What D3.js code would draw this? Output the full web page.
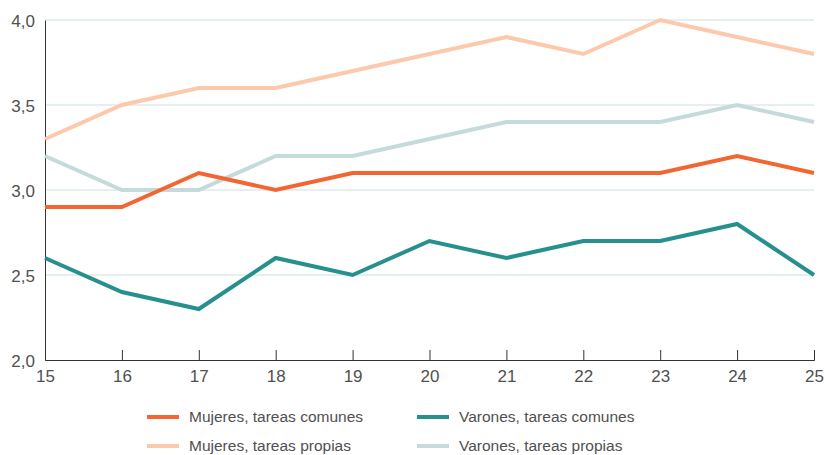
<!DOCTYPE html>
<html>
<head>
<meta charset="utf-8">
<script src="https://cdn.jsdelivr.net/npm/d3@7"></script>
<style>
  body { margin: 0; background: #fff; }
  text { font-family: "Liberation Sans", Arial, sans-serif; fill: #505050; }
</style>
</head>
<body>
<div id="chart"></div>
<script>
// Data
const years = [15, 16, 17, 18, 19, 20, 21, 22, 23, 24, 25];
const mujeresComunes = [2.9, 2.9, 3.1, 3.0, 3.1, 3.1, 3.1, 3.1, 3.1, 3.2, 3.1];
const varonesComunes = [2.6, 2.4, 2.3, 2.6, 2.5, 2.7, 2.6, 2.7, 2.7, 2.8, 2.5];
const mujeresPropias = [3.3, 3.5, 3.6, 3.6, 3.7, 3.8, 3.9, 3.8, 4.0, 3.9, 3.8];
const varonesPropias = [3.2, 3.0, 3.0, 3.2, 3.2, 3.3, 3.4, 3.4, 3.4, 3.5, 3.4];
const yTicks = [2.0, 2.5, 3.0, 3.5, 4.0];

const series = [
    { name: 'Mujeres, tareas propias', values: mujeresPropias, color: '#fdc9ad' },
    { name: 'Varones, tareas propias', values: varonesPropias, color: '#c5dadb' },
    { name: 'Varones, tareas comunes', values: varonesComunes, color: '#26908f' },
    { name: 'Mujeres, tareas comunes', values: mujeresComunes, color: '#f26631' }
];

const width = 825, height = 455;
const margin = { top: 20, right: 11, bottom: 95, left: 45 };

const svg = d3.select('#chart')
    .append('svg')
    .attr('width', width)
    .attr('height', height);

const xScale = d3.scaleLinear()
    .domain([15, 25])
    .range([margin.left, width - margin.right]);

const yScale = d3.scaleLinear()
    .domain([2, 4])
    .range([height - margin.bottom, margin.top]);

const fmt = d => d.toFixed(1).replace('.', ',');

// Horizontal gridlines
svg.selectAll('.grid')
    .data(yTicks.filter(d => d > 2))
    .enter()
    .append('line')
    .attr('class', 'grid')
    .attr('x1', margin.left)
    .attr('x2', width - margin.right)
    .attr('y1', d => yScale(d))
    .attr('y2', d => yScale(d))
    .attr('stroke', '#cde0e2')
    .attr('stroke-width', 1);

// Y axis
const yAxis = d3.axisLeft(yScale).tickValues(yTicks).tickFormat(fmt).tickSize(0).tickPadding(10);
const gY = svg.append('g')
    .attr('transform', `translate(${margin.left},0)`)
    .call(yAxis);
gY.select('.domain').attr('stroke', '#333');
gY.selectAll('text')
    .attr('font-size', 17)
    .attr('dy', '0.36em')
    .style('font-family', '"Liberation Sans", Arial, sans-serif')
    .attr('fill', '#505050');

// X axis, ticks point up into the plot
const xAxis = d3.axisBottom(xScale).tickValues(years).tickFormat(d3.format('d')).tickSize(-10).tickPadding(12);
const gX = svg.append('g')
    .attr('transform', `translate(0,${height - margin.bottom})`)
    .call(xAxis);
gX.select('.domain').attr('stroke', '#333');
gX.selectAll('.tick line').attr('stroke', '#333');
gX.selectAll('text')
    .attr('font-size', 17)
    .attr('dy', '0.6em')
    .style('font-family', '"Liberation Sans", Arial, sans-serif')
    .attr('fill', '#505050');

// Lines
const line = d3.line()
    .x((d, i) => xScale(years[i]))
    .y(d => yScale(d));

svg.selectAll('.series')
    .data(series)
    .enter()
    .append('path')
    .attr('class', 'series')
    .attr('d', d => line(d.values))
    .attr('fill', 'none')
    .attr('stroke', d => d.color)
    .attr('stroke-width', 4);

// Legend
const legendItems = [
    { s: series[3], x: 147, y: 417 },
    { s: series[2], x: 417, y: 417 },
    { s: series[0], x: 147, y: 446 },
    { s: series[1], x: 417, y: 446 }
];
const lg = svg.selectAll('.legend')
    .data(legendItems)
    .enter()
    .append('g')
    .attr('class', 'legend')
    .attr('transform', d => `translate(${d.x},${d.y})`);
lg.append('line')
    .attr('x1', 0).attr('x2', 32)
    .attr('stroke', d => d.s.color)
    .attr('stroke-width', 4);
lg.append('text')
    .attr('x', 42)
    .attr('dy', '0.35em')
    .attr('font-size', 15.5)
    .text(d => d.s.name);
</script>
</body>
</html>
